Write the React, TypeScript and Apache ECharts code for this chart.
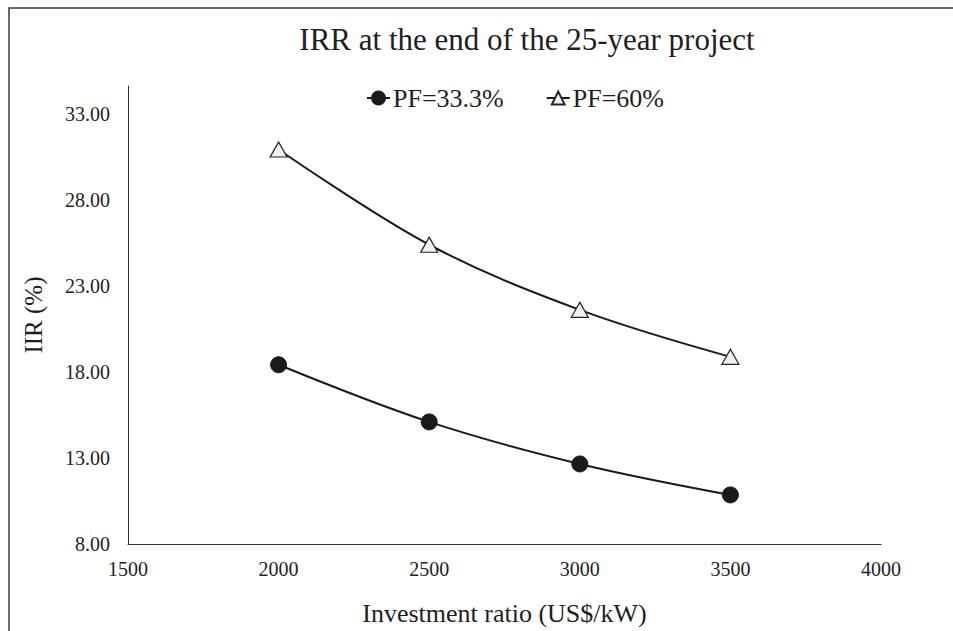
import React, { useEffect, useRef } from "react";
import * as echarts from "echarts";

const investment = [2000, 2500, 3000, 3500];
const irrPF333 = [18.41, 15.09, 12.65, 10.85];
const irrPF60 = [30.91, 25.38, 21.6, 18.87];
const seriesNames = ["PF=33.3%", "PF=60%"];
const titleText = "IRR at the end of the 25-year project";
const xAxisName = "Investment ratio (US$/kW)";
const yAxisName = "IIR (%)";

const FONT = "Liberation Serif";

export default function App() {
  const ref = useRef<HTMLDivElement>(null);
  useEffect(() => {
    if (!ref.current) return;
    const chart = echarts.init(ref.current, undefined, { renderer: "svg" });
    chart.setOption({
      animation: false,
      backgroundColor: "#ffffff",
      textStyle: { fontFamily: FONT, color: "#1e1e1e" },
      title: {
        text: titleText,
        left: 522,
        top: 19,
        textAlign: "center",
        textStyle: { fontFamily: FONT, fontSize: 31, fontWeight: "normal", color: "#1e1e1e" },
      },
      legend: {
        left: 361,
        top: 80,
        itemWidth: 23,
        itemHeight: 16,
        itemGap: 42,
        textStyle: { fontFamily: FONT, fontSize: 26, color: "#1e1e1e", padding: [0, 0, 0, -2] },
        data: seriesNames,
      },
      graphic: [
        {
          type: "rect",
          shape: { x: 9, y: 8, width: 1000, height: 700 },
          style: { fill: "none", stroke: "#3a3a3a", lineWidth: 1.5 },
          silent: true,
        },
      ],
      grid: { left: 128, right: 72, top: 86, bottom: 86 },
      xAxis: {
        type: "value",
        min: 1500,
        max: 4000,
        interval: 500,
        name: xAxisName,
        nameLocation: "middle",
        nameGap: 56,
        nameTextStyle: { fontFamily: FONT, fontSize: 26, color: "#1e1e1e" },
        axisLine: { show: true, lineStyle: { color: "#333", width: 1 } },
        axisTick: { show: false },
        splitLine: { show: false },
        axisLabel: {
          fontFamily: FONT,
          fontSize: 20,
          color: "#1e1e1e",
          margin: 15,
          formatter: (v: number) => String(v),
        },
      },
      yAxis: {
        type: "value",
        min: 8,
        max: 34.6,
        interval: 5,
        name: yAxisName,
        nameLocation: "middle",
        nameRotate: 90,
        nameGap: 82,
        nameTextStyle: { fontFamily: FONT, fontSize: 25, color: "#1e1e1e" },
        axisLine: { show: true, lineStyle: { color: "#333", width: 1 } },
        axisTick: { show: false },
        splitLine: { show: false },
        axisLabel: {
          fontFamily: FONT,
          fontSize: 20,
          color: "#1e1e1e",
          margin: 18,
          showMaxLabel: false,
          formatter: (v: number) => ((v - 8) % 5 === 0 ? v.toFixed(2) : ""),
        },
      },
      series: [
        {
          name: seriesNames[0],
          type: "line",
          smooth: 0.35,
          data: investment.map((x, i) => [x, irrPF333[i]]),
          symbol: "circle",
          symbolSize: 16,
          lineStyle: { color: "#1a1a1a", width: 2 },
          itemStyle: { color: "#1a1a1a", borderColor: "#1a1a1a", borderWidth: 1 },
        },
        {
          name: seriesNames[1],
          type: "line",
          smooth: 0.35,
          data: investment.map((x, i) => [x, irrPF60[i]]),
          symbol: "triangle",
          symbolSize: [17, 15],
          lineStyle: { color: "#1a1a1a", width: 2 },
          itemStyle: { color: "#eef0f2", borderColor: "#222", borderWidth: 1.2 },
        },
      ],
    });
    return () => chart.dispose();
  }, []);
  return (
    <div
      ref={ref}
      style={{ position: "fixed", left: 0, top: 0, width: 953, height: 631 }}
    />
  );
}
